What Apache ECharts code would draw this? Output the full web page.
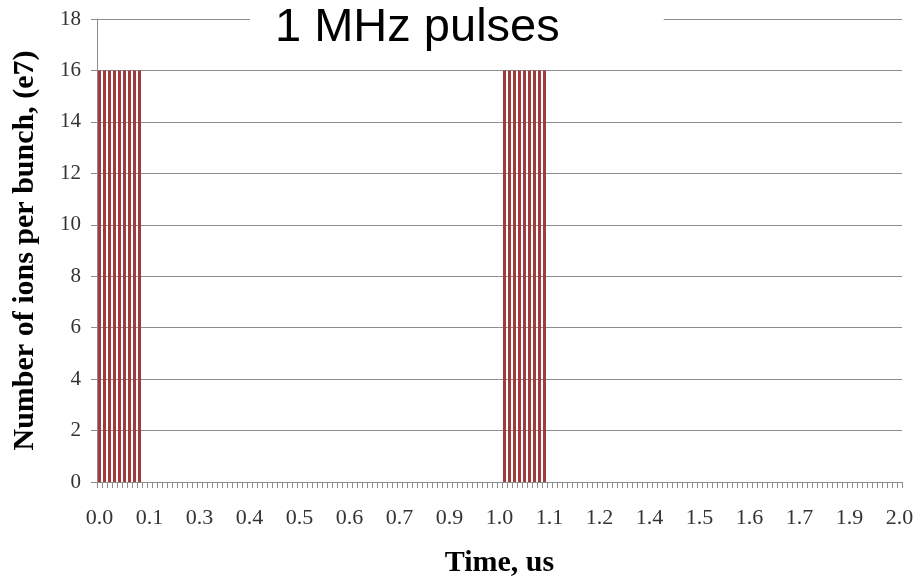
<!DOCTYPE html>
<html>
<head>
<meta charset="utf-8">
<script src="https://cdn.jsdelivr.net/npm/echarts@6/dist/echarts.min.js"></script>
<style>html,body{margin:0;padding:0;background:#fff}#c{width:915px;height:582px}</style>
</head>
<body>
<div id="c"></div>
<script>
// Time categories (us), step 0.0125
var categories = [
0,0.0125,0.025,0.0375,0.05,0.0625,0.075,0.0875,0.1,0.1125,
0.125,0.1375,0.15,0.1625,0.175,0.1875,0.2,0.2125,0.225,0.2375,
0.25,0.2625,0.275,0.2875,0.3,0.3125,0.325,0.3375,0.35,0.3625,
0.375,0.3875,0.4,0.4125,0.425,0.4375,0.45,0.4625,0.475,0.4875,
0.5,0.5125,0.525,0.5375,0.55,0.5625,0.575,0.5875,0.6,0.6125,
0.625,0.6375,0.65,0.6625,0.675,0.6875,0.7,0.7125,0.725,0.7375,
0.75,0.7625,0.775,0.7875,0.8,0.8125,0.825,0.8375,0.85,0.8625,
0.875,0.8875,0.9,0.9125,0.925,0.9375,0.95,0.9625,0.975,0.9875,
1,1.0125,1.025,1.0375,1.05,1.0625,1.075,1.0875,1.1,1.1125,
1.125,1.1375,1.15,1.1625,1.175,1.1875,1.2,1.2125,1.225,1.2375,
1.25,1.2625,1.275,1.2875,1.3,1.3125,1.325,1.3375,1.35,1.3625,
1.375,1.3875,1.4,1.4125,1.425,1.4375,1.45,1.4625,1.475,1.4875,
1.5,1.5125,1.525,1.5375,1.55,1.5625,1.575,1.5875,1.6,1.6125,
1.625,1.6375,1.65,1.6625,1.675,1.6875,1.7,1.7125,1.725,1.7375,
1.75,1.7625,1.775,1.7875,1.8,1.8125,1.825,1.8375,1.85,1.8625,
1.875,1.8875,1.9,1.9125,1.925,1.9375,1.95,1.9625,1.975,1.9875,
2
];
// Ions per bunch (e7)
var ions = [
16,16,16,16,16,16,16,16,16,0,
0,0,0,0,0,0,0,0,0,0,
0,0,0,0,0,0,0,0,0,0,
0,0,0,0,0,0,0,0,0,0,
0,0,0,0,0,0,0,0,0,0,
0,0,0,0,0,0,0,0,0,0,
0,0,0,0,0,0,0,0,0,0,
0,0,0,0,0,0,0,0,0,0,
0,16,16,16,16,16,16,16,16,16,
0,0,0,0,0,0,0,0,0,0,
0,0,0,0,0,0,0,0,0,0,
0,0,0,0,0,0,0,0,0,0,
0,0,0,0,0,0,0,0,0,0,
0,0,0,0,0,0,0,0,0,0,
0,0,0,0,0,0,0,0,0,0,
0,0,0,0,0,0,0,0,0,0,
0
];
// Displayed x tick labels (every 10th category)
var xTickLabels = ['0.0','0.1','0.3','0.4','0.5','0.6','0.7','0.9','1.0','1.1','1.2','1.4','1.5','1.6','1.7','1.9','2.0'];

var chart = echarts.init(document.getElementById('c'), null, {renderer: 'canvas'});
var serif = '"Liberation Serif","Times New Roman",serif';
chart.setOption({
  animation: false,
  backgroundColor: '#ffffff',
  title: {
    text: '1 MHz pulses',
    left: 250,
    top: 0,
    padding: [5, 104, 6, 25],
    backgroundColor: '#ffffff',
    z: 10,
    textStyle: {fontFamily: '"Liberation Sans",Arial,sans-serif', fontSize: 47, fontWeight: 'normal', color: '#000'}
  },
  grid: {left: 97, right: 13, top: 19, bottom: 100, containLabel: false, outerBoundsMode: 'none'},
  xAxis: {
    type: 'category',
    data: categories,
    name: 'Time, us',
    nameLocation: 'middle',
    nameGap: 66,
    nameTextStyle: {fontFamily: serif, fontSize: 30, fontWeight: 'bold', color: '#000'},
    axisLine: {lineStyle: {color: '#8c8c8c', width: 1}},
    axisTick: {show: true, interval: 0, length: 6, lineStyle: {color: '#8c8c8c'}},
    axisLabel: {
      interval: 0, margin: 25, fontFamily: serif, fontSize: 22, color: '#333',
      formatter: function (v, i) { return i % 10 === 0 ? xTickLabels[i / 10] : ''; }
    },
    splitLine: {show: false}
  },
  yAxis: {
    type: 'value',
    min: 0, max: 18, interval: 2,
    name: 'Number of ions per bunch, (e7)',
    nameLocation: 'middle',
    nameGap: 57,
    nameTextStyle: {fontFamily: serif, fontSize: 30, fontWeight: 'bold', color: '#000'},
    axisLine: {show: true, lineStyle: {color: '#8c8c8c', width: 1}},
    axisTick: {show: true, length: 6, lineStyle: {color: '#8c8c8c'}},
    axisLabel: {margin: 16, fontFamily: serif, fontSize: 21, color: '#333'},
    splitLine: {show: true, lineStyle: {color: '#8c8c8c', width: 1}}
  },
  series: [{
    type: 'bar',
    data: ions,
    barWidth: 3,
    itemStyle: {color: '#a23b3b'}
  }]
});
</script>
</body>
</html>
